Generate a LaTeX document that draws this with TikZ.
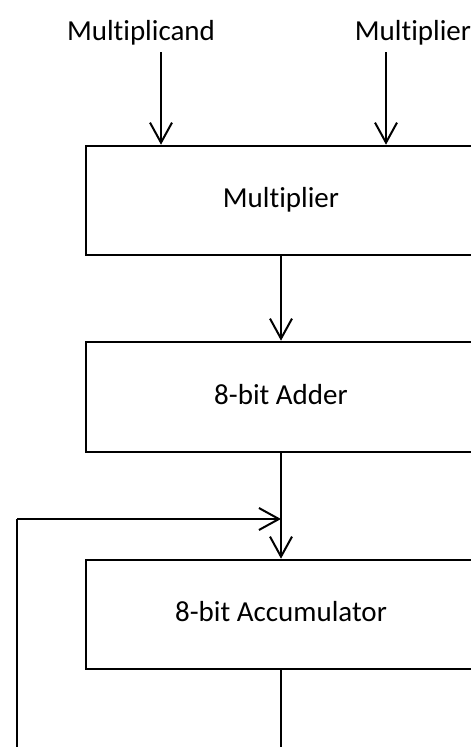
\documentclass[tikz,border=0pt]{standalone}
\usepackage{fontspec}
\setmainfont[Ligatures={NoCommon}]{Carlito}
\usetikzlibrary{arrows.meta}
\begin{document}
\begin{tikzpicture}[x=1pt,y=-1pt,
  txt/.style={font=\fontsize{29}{33}\selectfont, inner sep=0pt},
  blockbox/.style={draw=black, line width=2.6pt, minimum width=390pt, text height=19pt, text depth=5pt, inner sep=0pt, font=\fontsize{29}{33}\selectfont},
  conn/.style={draw=black, line width=2pt, -{Straight Barb[length=20pt,width=22pt,line width=2pt]}},
  plain/.style={draw=black, line width=2pt}]
\useasboundingbox (0,0) rectangle (471,747);
\clip (0,0) rectangle (471,747);
\fill[white] (0,0) rectangle (471,747);
% labels
\node[txt, anchor=base] (lmc) at (141,40) {Multiplicand};
\node[txt, anchor=base] (lmp) at (413,40) {Multiplier};
% boxes
\node[blockbox, minimum height=109pt] (mult) at (281,200.5) {Multiplier};
\node[blockbox, minimum height=110pt] (add) at (281,397) {8-bit Adder};
\node[blockbox, minimum height=109pt] (acc) at (281,614.5) {8-bit Accumulator};
% input arrows
\coordinate (i1) at (161,52);
\coordinate (i2) at (386,52);
\draw[conn] (i1) -- (i1 |- mult.north);
\draw[conn] (i2) -- (i2 |- mult.north);
% between boxes
\draw[conn] (mult.south) -- (add.north);
\draw[conn] (add.south) -- (acc.north);
% feedback
\coordinate (b1) at (281,752);
\coordinate (b2) at (17,752);
\coordinate (f1) at (17,519);
\coordinate (f2) at (281,519);
\draw[plain] (acc.south) -- (b1) -- (b2) -- (f1);
\draw[conn] (f1) -- (f2);
\end{tikzpicture}
\end{document}
